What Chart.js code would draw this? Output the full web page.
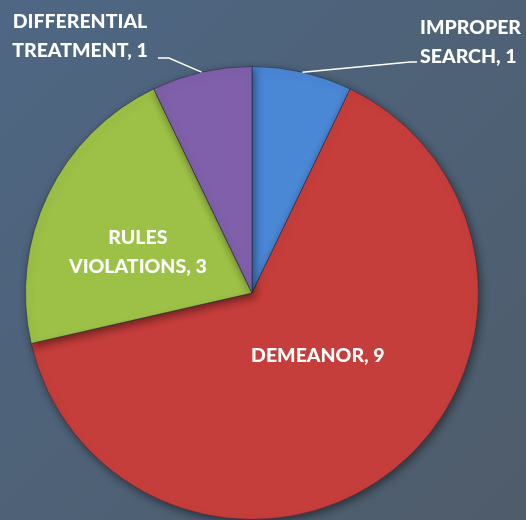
<!DOCTYPE html>
<html>
<head>
<meta charset="utf-8">
<script src="https://cdn.jsdelivr.net/npm/chart.js@4"></script>
<style>
  html, body { margin: 0; padding: 0; }
  body { width: 526px; height: 520px; overflow: hidden; }
  #wrap { position: relative; width: 526px; height: 520px; }
</style>
</head>
<body>
<div id="wrap"><canvas id="complaintsPie"></canvas></div>
<script>
// data
const categories = ['IMPROPER SEARCH', 'DEMEANOR', 'RULES VIOLATIONS', 'DIFFERENTIAL TREATMENT'];
const counts = [1, 9, 3, 1];
const sliceColors = ['#4a87d5', '#c63e3b', '#9dc046', '#8060aa'];

// label text lines (category split over two lines where the picture does it)
const labelLines = [
    ['IMPROPER', 'SEARCH, 1'],
    ['DEMEANOR, 9'],
    ['RULES', 'VIOLATIONS, 3'],
    ['DIFFERENTIAL', 'TREATMENT, 1']
];

// where each label goes, relative to the slice
const labelPlace = [
    { outside: true, tx: 420, ty: 26, align: 'left', elbow: 417, ly: 62 },
    { outside: false, frac: 0.36, dx: 15, dy: -1 },
    { outside: false, frac: 0.53, dx: -6, dy: 11 },
    { outside: true, tx: 80, ty: 20, align: 'center', elbow: 158, ly: 58 }
];

// background gradient
const bgPlugin = {
    id: 'bg',
    beforeDraw(chart) {
        const c = chart.ctx;
        const g = c.createLinearGradient(0, 0, chart.width, chart.height);
        g.addColorStop(0, '#4e6784');
        g.addColorStop(1, '#4f5c6a');
        c.save();
        c.fillStyle = g;
        c.fillRect(0, 0, chart.width, chart.height);
        c.restore();
    }
};

// soft shadow under the pie
const shadowPlugin = {
    id: 'pieShadow',
    beforeDatasetsDraw(chart) {
        const c = chart.ctx;
        c.save();
        c.shadowColor = 'rgba(0,0,0,0.45)';
        c.shadowBlur = 8;
        c.shadowOffsetX = 2;
        c.shadowOffsetY = 3;
    },
    afterDatasetsDraw(chart) {
        chart.ctx.restore();
    }
};

// labels, some with leader lines
const labelPlugin = {
    id: 'sliceLabels',
    afterDraw(chart) {
        const c = chart.ctx;
        const arcs = chart.getDatasetMeta(0).data;
        c.save();
        c.font = '900 19.5px Lato';
        c.fillStyle = '#ffffff';
        c.textBaseline = 'middle';
        arcs.forEach((arc, i) => {
            const p = arc.getProps(['x', 'y', 'startAngle', 'endAngle', 'outerRadius']);
            const mid = (p.startAngle + p.endAngle) / 2;
            const place = labelPlace[i];
            const lines = labelLines[i];
            if (place.outside) {
                const ex = p.x + Math.cos(mid) * p.outerRadius;
                const ey = p.y + Math.sin(mid) * p.outerRadius;
                c.strokeStyle = '#ffffff';
                c.lineWidth = 1.5;
                c.beginPath();
                c.moveTo(ex, ey);
                if (place.align === 'left') {
                    c.lineTo(place.elbow - 7, place.ly);
                    c.lineTo(place.elbow, place.ly);
                } else {
                    c.lineTo(place.elbow + 11, place.ly);
                    c.lineTo(place.elbow, place.ly);
                }
                c.stroke();
                c.textAlign = place.align;
                lines.forEach((t, k) => c.fillText(t, place.tx, place.ty + 2 + k * 28.5));
            } else {
                const cx = p.x + Math.cos(mid) * p.outerRadius * place.frac + place.dx;
                const cy = p.y + Math.sin(mid) * p.outerRadius * place.frac + place.dy;
                c.textAlign = 'center';
                const top = cy - (lines.length - 1) * 14.5;
                lines.forEach((t, k) => c.fillText(t, cx, top + k * 29));
            }
        });
        c.restore();
    }
};

new Chart(document.getElementById('complaintsPie'), {
    type: 'pie',
    data: {
        labels: categories,
        datasets: [{
            data: counts,
            backgroundColor: sliceColors,
            borderColor: 'rgba(40,40,60,0.55)',
            borderWidth: 1
        }]
    },
    options: {
        responsive: true,
        maintainAspectRatio: false,
        animation: false,
        layout: { padding: { left: 25, right: 47, top: 66, bottom: 0 } },
        plugins: {
            legend: { display: false },
            tooltip: { enabled: false }
        }
    },
    plugins: [bgPlugin, shadowPlugin, labelPlugin]
});
</script>
</body>
</html>
